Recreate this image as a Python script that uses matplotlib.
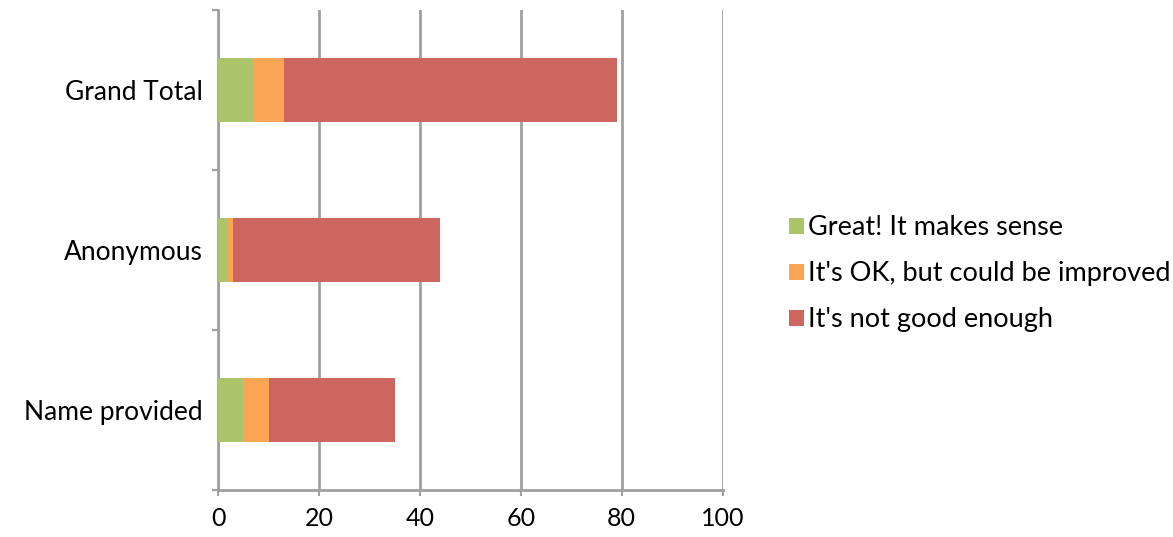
import matplotlib
matplotlib.use('Agg')
import matplotlib.pyplot as plt
from matplotlib.patches import Patch

categories = ['Name provided', 'Anonymous', 'Grand Total']
series_names = ['Great! It makes sense', "It's OK, but could be improved", "It's not good enough"]
great = [5, 2, 7]
ok = [5, 1, 6]
not_good = [25, 41, 66]
colors = ['#ACC46A', '#FBA654', '#CD665E']
x_ticks = [0, 20, 40, 60, 80, 100]

plt.rcParams['font.family'] = ['Lato', 'DejaVu Sans']

fig = plt.figure(figsize=(11.73, 5.37), dpi=100)
ax = fig.add_axes([0.186, 0.0875, 0.430, 0.894])

y = range(len(categories))
left = [0] * len(categories)
for vals, col in zip([great, ok, not_good], colors):
    ax.barh(y, vals, left=left, height=0.4, color=col, zorder=3)
    left = [a + b for a, b in zip(left, vals)]

ax.set_xlim(0, 100)
ax.set_ylim(-0.5, 2.5)
ax.set_xticks(x_ticks)
ax.set_xticklabels([str(v) for v in x_ticks], fontsize=18)
ax.set_yticks(list(y))
ax.set_yticklabels(categories, fontsize=19)
ax.set_yticks([-0.5, 0.5, 1.5, 2.5], minor=True)
ax.tick_params(axis='y', which='major', length=0, pad=11)
ax.tick_params(axis='y', which='minor', length=4, width=1.5, color='#A0A0A0')
ax.tick_params(axis='x', length=4, width=1.5, color='#A0A0A0', pad=8)

ax.grid(axis='x', color='#A0A0A0', lw=2, zorder=0)
for s in ['top', 'right']:
    ax.spines[s].set_visible(False)
for s in ['left', 'bottom']:
    ax.spines[s].set_color('#A0A0A0')
    ax.spines[s].set_linewidth(2)
ax.spines['bottom'].set_zorder(1)

handles = [Patch(facecolor=c, edgecolor='none') for c in colors]
fig.legend(handles, series_names, loc='center left', bbox_to_anchor=(0.673, 0.49),
           frameon=False, fontsize=19.5, handlelength=0.55, handleheight=0.55,
           handletextpad=0.15, labelspacing=0.78, borderpad=0, borderaxespad=0)

fig.savefig('out.png', dpi=100)
